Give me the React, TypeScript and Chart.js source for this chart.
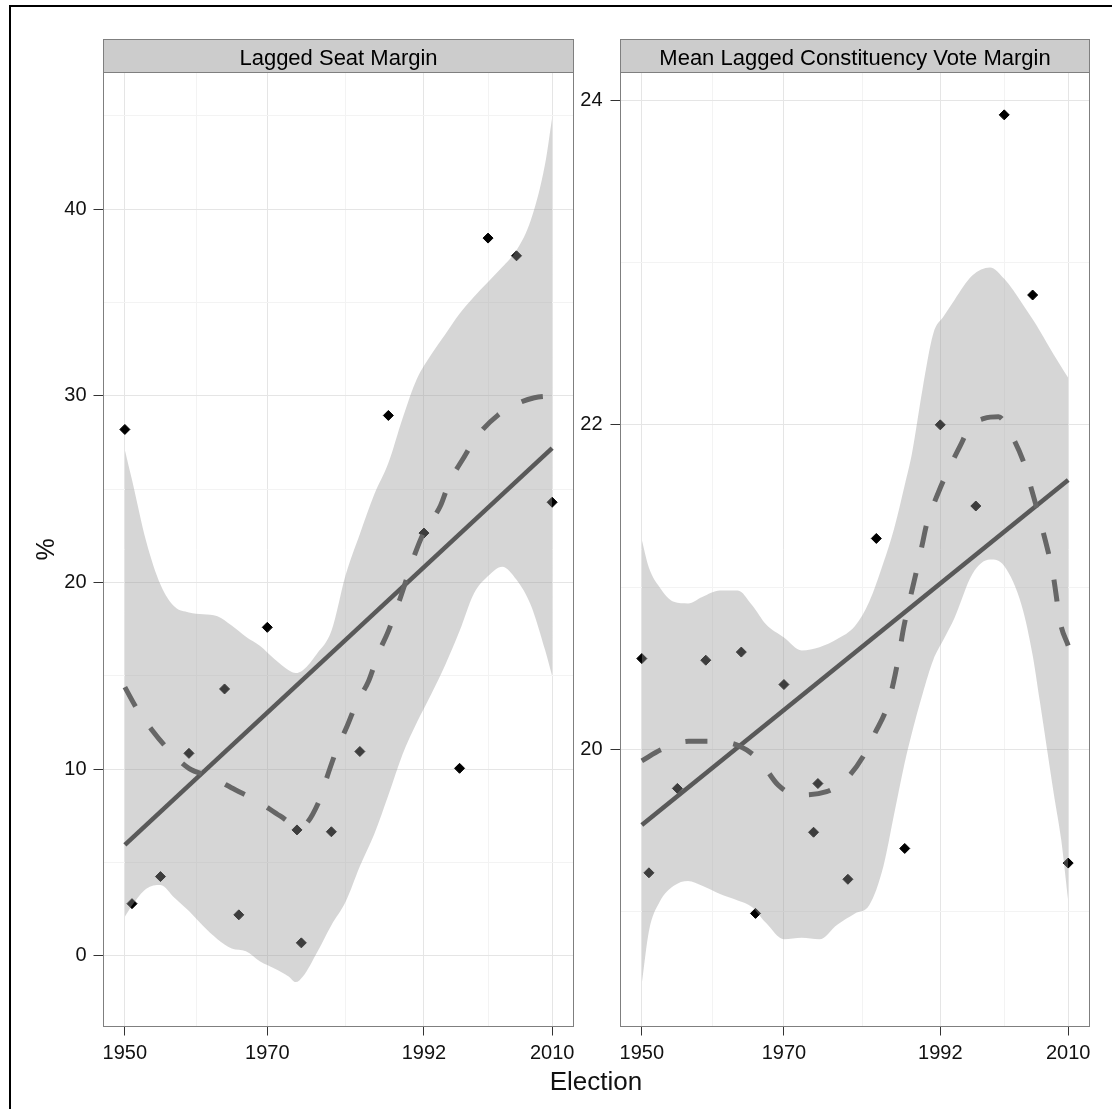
import React, { useEffect, useRef } from 'react';
import { Chart, registerables } from 'chart.js';

Chart.register(...registerables);

// ---------- data ----------
const electionYears = [1950, 1951, 1955, 1959, 1964, 1966, 1970, 1974.17, 1974.78, 1979, 1983, 1987, 1992, 1997, 2001, 2005, 2010];
const seatMargin = [28.2, 2.8, 4.25, 10.85, 14.3, 2.2, 17.6, 6.75, 0.7, 6.65, 10.95, 28.95, 22.65, 10.05, 38.45, 37.5, 24.3];
const voteMargin = [20.56, 19.24, 19.76, 20.55, 20.6, 18.99, 20.4, 19.49, 19.79, 19.2, 21.3, 19.39, 22.0, 21.5, 23.91, 22.8, 19.3];

const seatBandYears = [1950, 1951, 1953, 1955, 1957, 1959, 1961, 1963, 1965, 1967, 1969, 1971, 1973, 1974, 1975, 1977, 1979, 1981, 1983, 1985, 1987, 1989, 1991, 1993, 1995, 1997, 1999, 2001, 2003, 2005, 2007, 2009, 2010];
const seatBandUpper = [27.1, 25.5, 22.2, 19.9, 18.7, 18.4, 18.3, 18.2, 17.7, 17.1, 16.6, 15.9, 15.3, 15.15, 15.3, 16.2, 17.4, 20.4, 22.6, 24.7, 26.4, 28.8, 30.9, 32.2, 33.3, 34.4, 35.3, 36.1, 36.9, 37.8, 39.4, 42.4, 44.9];
const seatBandLower = [2.1, 2.7, 3.6, 3.8, 3.1, 2.4, 1.6, 0.9, 0.4, 0.25, -0.3, -0.67, -1.1, -1.4, -1.1, 0.2, 1.65, 2.9, 4.8, 6.5, 8.6, 10.8, 12.5, 14.0, 15.6, 17.4, 19.4, 20.35, 20.85, 20.15, 18.8, 16.4, 15.0];
const seatLoessYears = [1950, 1951.6, 1953.8, 1956, 1959, 1962, 1965.5, 1968.6, 1971.8, 1974.6, 1977.4, 1978.4, 1979.8, 1981.2, 1982.6, 1984.2, 1985.6, 1987, 1988.7, 1990.8, 1992, 1994.3, 1995.5, 1997.6, 1999.6, 2002.4, 2005.2, 2007.5, 2010];
const seatLoess = [14.4, 13.3, 12.1, 11.1, 10.05, 9.6, 8.9, 8.3, 7.5, 6.9, 8.4, 9.6, 11.1, 12.3, 13.6, 14.7, 16.2, 17.4, 19.2, 21.6, 22.7, 24.1, 25.3, 26.7, 27.9, 28.97, 29.6, 29.9, 30.0];
const seatLinearYears = [1950, 2010];
const seatLinear = [5.95, 27.2];

const voteBandYears = [1950, 1951, 1952.5, 1954.5, 1956.5, 1958.5, 1961, 1963.5, 1965.5, 1967.5, 1970, 1972.5, 1975, 1977.5, 1980, 1982, 1984, 1985.5, 1987, 1988, 1989.5, 1991, 1992.5, 1994, 1996.5, 1999, 2001, 2003.5, 2005, 2006, 2008, 2009, 2010];
const voteBandUpper = [21.29, 21.12, 21.0, 20.91, 20.9, 20.94, 20.98, 20.98, 20.89, 20.77, 20.69, 20.61, 20.63, 20.68, 20.76, 20.91, 21.15, 21.36, 21.63, 21.82, 22.22, 22.56, 22.67, 22.77, 22.92, 22.97, 22.9, 22.75, 22.65, 22.58, 22.43, 22.36, 22.29];
const voteBandLower = [18.56, 18.88, 19.06, 19.16, 19.19, 19.16, 19.11, 19.07, 19.03, 18.93, 18.83, 18.84, 18.83, 18.92, 18.99, 19.04, 19.28, 19.6, 19.92, 20.1, 20.34, 20.55, 20.68, 20.81, 21.08, 21.17, 21.13, 20.88, 20.58, 20.3, 19.72, 19.45, 19.07];
const voteLoessYears = [1950, 1952.8, 1956.6, 1960, 1963.8, 1966.6, 1969.2, 1971.8, 1976, 1978.8, 1981.2, 1982.8, 1984.5, 1985.4, 1986.3, 1986.8, 1987.8, 1988.5, 1989.4, 1990.1, 1991.7, 1993.1, 1994.8, 1996.2, 1998.2, 2000.2, 2001.6, 2003.9, 2004.6, 2006.3, 2007.9, 2008.9, 2010];
const voteLoess = [19.93, 20.0, 20.05, 20.05, 20.02, 19.93, 19.78, 19.72, 19.74, 19.82, 19.96, 20.1, 20.26, 20.41, 20.61, 20.74, 20.94, 21.07, 21.25, 21.39, 21.58, 21.72, 21.87, 21.99, 22.04, 22.05, 21.97, 21.75, 21.64, 21.37, 21.07, 20.78, 20.64];
const voteLinearYears = [1950, 2010];
const voteLinear = [19.535, 21.66];

const xMajorTicks = [1950, 1970, 1992, 2010];
const xMinorTicks = [1960, 1981, 2001];
const seatMajorTicks = [0, 10, 20, 30, 40];
const seatMinorTicks = [5, 15, 25, 35, 45];
const voteMajorTicks = [20, 22, 24];
const voteMinorTicks = [19, 21, 23];

// ---------- styling ----------
const FONT = "'Liberation Sans', Arial, Helvetica, sans-serif";
const CANVAS_H = 1109;
const AREA_TOP = 72.5;
const AREA_BOTTOM = 1026.5;
const X_AXIS_H = 40;

const toXY = (xs: number[], ys: number[]) => xs.map((x, i) => ({ x, y: ys[i] }));

const panelDecor = {
  id: 'panelDecor',
  afterDatasetsDraw(chart: any, _args: any, opts: any) {
    const { ctx, chartArea: a } = chart;
    ctx.save();
    ctx.strokeStyle = '#7f7f7f';
    ctx.lineWidth = 1;
    ctx.strokeRect(a.left, a.top, a.right - a.left, a.bottom - a.top);
    const sTop = 39.5;
    ctx.fillStyle = '#cccccc';
    ctx.fillRect(a.left, sTop, a.right - a.left, a.top - sTop);
    ctx.strokeRect(a.left, sTop, a.right - a.left, a.top - sTop);
    ctx.fillStyle = '#000000';
    ctx.font = `22px ${FONT}`;
    ctx.textAlign = 'center';
    ctx.textBaseline = 'alphabetic';
    ctx.fillText(opts.text, (a.left + a.right) / 2, 65);
    ctx.restore();
  },
};

type PanelSpec = {
  title: string;
  pointsY: number[];
  bandX: number[];
  bandUpper: number[];
  bandLower: number[];
  loessX: number[];
  loessY: number[];
  linX: number[];
  linY: number[];
  yMin: number;
  yMax: number;
  yMajor: number[];
  yMinor: number[];
  canvasWidth: number;
  areaLeft: number;
  areaRight: number;
  yTitle?: string;
  yPad: number;
};

function buildPanel(canvas: HTMLCanvasElement, s: PanelSpec) {
  const xAll = [...xMajorTicks, ...xMinorTicks].sort((a, b) => a - b);
  const yAll = [...s.yMajor, ...s.yMinor].sort((a, b) => a - b);
  const gridFor = (majors: number[], tickLen: number) => ({
    color: (c: any) => (c.tick && majors.includes(c.tick.value) ? '#e5e5e5' : '#f3f3f3'),
    lineWidth: 1,
    tickColor: (c: any) => (c.tick && majors.includes(c.tick.value) ? '#333333' : 'rgba(0,0,0,0)'),
    tickLength: tickLen,
    drawTicks: true,
    drawOnChartArea: true,
  });
  return new Chart(canvas, {
    type: 'line',
    data: {
      datasets: [
        {
          label: 'points',
          data: toXY(electionYears, s.pointsY),
          showLine: false,
          pointStyle: 'rectRot',
          pointRadius: 5,
          pointBackgroundColor: '#000000',
          pointBorderColor: '#000000',
          pointBorderWidth: 1,
          order: 10,
        },
        {
          label: 'upper',
          data: toXY(s.bandX, s.bandUpper),
          fill: '+1',
          backgroundColor: 'rgba(153,153,153,0.4)',
          borderColor: 'rgba(0,0,0,0)',
          borderWidth: 0,
          pointRadius: 0,
          cubicInterpolationMode: 'monotone',
          order: 5,
        },
        {
          label: 'lower',
          data: toXY(s.bandX, s.bandLower),
          fill: false,
          borderColor: 'rgba(0,0,0,0)',
          borderWidth: 0,
          pointRadius: 0,
          cubicInterpolationMode: 'monotone',
          order: 5,
        },
        {
          label: 'linear',
          data: toXY(s.linX, s.linY),
          fill: false,
          borderColor: '#595959',
          borderWidth: 4.5,
          pointRadius: 0,
          order: 2,
        },
        {
          label: 'loess',
          data: toXY(s.loessX, s.loessY),
          fill: false,
          borderColor: '#666666',
          borderWidth: 5,
          borderDash: [22, 26],
          borderCapStyle: 'butt',
          pointRadius: 0,
          cubicInterpolationMode: 'monotone',
          order: 1,
        },
      ] as any,
    },
    options: {
      responsive: false,
      animation: false,
      events: [],
      layout: {
        padding: {
          left: 0,
          top: AREA_TOP,
          right: s.canvasWidth - s.areaRight,
          bottom: CANVAS_H - AREA_BOTTOM - X_AXIS_H,
        },
      },
      plugins: {
        legend: { display: false },
        tooltip: { enabled: false },
        panelDecor: { text: s.title },
      } as any,
      scales: {
        x: {
          type: 'linear',
          min: 1947,
          max: 2013,
          afterBuildTicks: (scale: any) => {
            scale.ticks = xAll.map((v) => ({ value: v }));
          },
          afterFit: (scale: any) => {
            scale.height = X_AXIS_H;
          },
          ticks: {
            autoSkip: false,
            maxRotation: 0,
            minRotation: 0,
            padding: 6,
            color: '#111111',
            font: { family: FONT, size: 20 },
            callback: (v: any) => (xMajorTicks.includes(v) ? String(v) : ''),
          },
          grid: gridFor(xMajorTicks, 9),
          border: { display: false },
        },
        y: {
          type: 'linear',
          min: s.yMin,
          max: s.yMax,
          afterBuildTicks: (scale: any) => {
            scale.ticks = yAll.map((v) => ({ value: v }));
          },
          afterFit: (scale: any) => {
            scale.width = s.areaLeft;
          },
          ticks: {
            autoSkip: false,
            padding: s.yPad,
            color: '#111111',
            font: { family: FONT, size: 20 },
            callback: (v: any) => (s.yMajor.includes(v) ? String(v) : ''),
          },
          grid: gridFor(s.yMajor, 10),
          border: { display: false },
          title: s.yTitle
            ? {
                display: true,
                text: s.yTitle,
                color: '#111111',
                font: { family: FONT, size: 25 },
                padding: { top: 32, bottom: 0 },
              }
            : { display: false },
        },
      } as any,
    },
    plugins: [panelDecor as any],
  });
}

const leftSpec: PanelSpec = {
  title: 'Lagged Seat Margin',
  pointsY: seatMargin,
  bandX: seatBandYears,
  bandUpper: seatBandUpper,
  bandLower: seatBandLower,
  loessX: seatLoessYears,
  loessY: seatLoess,
  linX: seatLinearYears,
  linY: seatLinear,
  yMin: -3.78,
  yMax: 47.32,
  yMajor: seatMajorTicks,
  yMinor: seatMinorTicks,
  canvasWidth: 600,
  areaLeft: 103.5,
  areaRight: 573.5,
  yTitle: '%',
  yPad: 7,
};

const rightSpec: PanelSpec = {
  title: 'Mean Lagged Constituency Vote Margin',
  pointsY: voteMargin,
  bandX: voteBandYears,
  bandUpper: voteBandUpper,
  bandLower: voteBandLower,
  loessX: voteLoessYears,
  loessY: voteLoess,
  linX: voteLinearYears,
  linY: voteLinear,
  yMin: 18.293,
  yMax: 24.171,
  yMajor: voteMajorTicks,
  yMinor: voteMinorTicks,
  canvasWidth: 555,
  areaLeft: 60.5,
  areaRight: 529.5,
  yPad: 8,
};

export default function App() {
  const leftRef = useRef<HTMLCanvasElement>(null);
  const rightRef = useRef<HTMLCanvasElement>(null);

  useEffect(() => {
    const c1 = buildPanel(leftRef.current as HTMLCanvasElement, leftSpec);
    const c2 = buildPanel(rightRef.current as HTMLCanvasElement, rightSpec);
    return () => {
      c1.destroy();
      c2.destroy();
    };
  }, []);

  return (
    <div
      style={{
        position: 'absolute',
        left: 0,
        top: 0,
        width: 1115,
        height: 1109,
        background: '#ffffff',
        overflow: 'hidden',
      }}
    >
      <div
        style={{
          position: 'absolute',
          left: 9,
          top: 5,
          width: 1101,
          height: 1110,
          borderLeft: '2px solid #000',
          borderTop: '2px solid #000',
        }}
      />
      <canvas
        ref={leftRef}
        width={600}
        height={1109}
        style={{ position: 'absolute', left: 0, top: 0, width: 600, height: 1109 }}
      />
      <canvas
        ref={rightRef}
        width={555}
        height={1109}
        style={{ position: 'absolute', left: 560, top: 0, width: 555, height: 1109 }}
      />
      <div
        style={{
          position: 'absolute',
          left: 496,
          top: 1068,
          width: 200,
          textAlign: 'center',
          font: `26px ${FONT}`,
          lineHeight: '26px',
          color: '#111111',
        }}
      >
        Election
      </div>
    </div>
  );
}
